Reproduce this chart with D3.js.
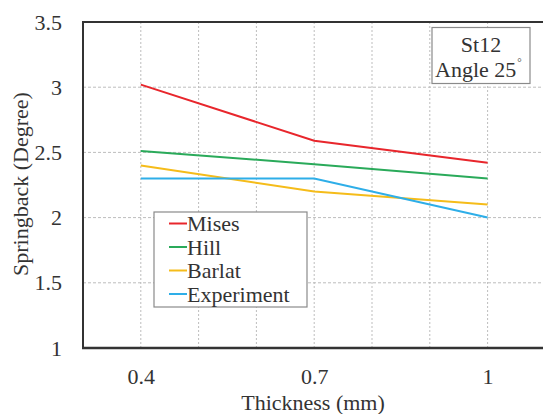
<!DOCTYPE html>
<html>
<head>
<meta charset="utf-8">
<script src="https://cdn.jsdelivr.net/npm/d3@7"></script>
</head>
<body style="margin:0">
<svg id="chart" width="543" height="414"></svg>
<script>
// Springback angle vs. sheet thickness for St12 at a 25° bend angle
const thickness = [0.4, 0.7, 1.0];
const mises = [3.02, 2.59, 2.42];
const hill = [2.51, 2.41, 2.30];
const barlat = [2.40, 2.20, 2.10];
const experiment = [2.30, 2.30, 2.00];

const seriesNames = ["Mises", "Hill", "Barlat", "Experiment"];
const seriesColors = ["#e8262c", "#2aaa5a", "#f5bc1a", "#2eaee8"];
const seriesValues = [mises, hill, barlat, experiment];

const xTickLabels = [0.4, 0.7, 1];
const xGridValues = [0.4, 0.5, 0.6, 0.7, 0.8, 0.9, 1.0];
const yTickLabels = [1, 1.5, 2, 2.5, 3, 3.5];

const FONT = "Liberation Serif";
const FS = "22px";
const INK = "#333";

const svg = d3.select("#chart");
const plotLeft = 83, plotTop = 22, plotBottom = 348;

const x = d3.scaleLinear().domain([0.3, 1.1]).range([plotLeft, plotLeft + 8 * 57.8]);
const y = d3.scaleLinear().domain([1, 3.5]).range([plotBottom, plotTop]);

function styleText(sel) {
  return sel.style("font-family", FONT).style("font-size", FS).attr("fill", INK);
}

// grid
const grid = svg.append("g");
grid.selectAll("line.vg").data(xGridValues).join("line")
  .attr("x1", d => x(d)).attr("x2", d => x(d))
  .attr("y1", plotTop).attr("y2", plotBottom)
  .attr("stroke", "#bdbdbd").attr("stroke-width", 1).attr("stroke-dasharray", "2,2");
grid.selectAll("line.hg").data(yTickLabels.filter(d => d > 1 && d < 3.5)).join("line")
  .attr("x1", plotLeft).attr("x2", 543)
  .attr("y1", d => y(d)).attr("y2", d => y(d))
  .attr("stroke", "#bdbdbd").attr("stroke-width", 1).attr("stroke-dasharray", "3,2");

// axes with labels only (no tick marks)
const xAxis = d3.axisBottom(x).tickValues(xTickLabels).tickSize(0).tickPadding(20)
  .tickFormat(d => d3.format("")(d));
const gx = svg.append("g").attr("transform", `translate(0,${plotBottom})`).call(xAxis);
gx.attr("font-family", null);
gx.select(".domain").remove();
styleText(gx.selectAll("text"));

const yAxis = d3.axisLeft(y).tickValues(yTickLabels).tickSize(0).tickPadding(21)
  .tickFormat(d => d3.format("")(d));
const gy = svg.append("g").attr("transform", `translate(${plotLeft},0)`).call(yAxis);
gy.attr("font-family", null);
gy.select(".domain").remove();
styleText(gy.selectAll("text"));

// plot frame
svg.append("line").attr("x1", plotLeft).attr("x2", 543).attr("y1", plotTop).attr("y2", plotTop)
  .attr("stroke", "#333").attr("stroke-width", 2);
svg.append("line").attr("x1", plotLeft).attr("x2", plotLeft).attr("y1", plotTop - 1).attr("y2", plotBottom + 1)
  .attr("stroke", "#333").attr("stroke-width", 2);
svg.append("line").attr("x1", plotLeft - 1).attr("x2", 543).attr("y1", plotBottom).attr("y2", plotBottom)
  .attr("stroke", "#333").attr("stroke-width", 2.5);

// series lines
const line = d3.line().x((d, i) => x(thickness[i])).y(d => y(d));
svg.append("g").selectAll("path").data(seriesValues).join("path")
  .attr("d", d => line(d))
  .attr("fill", "none")
  .attr("stroke", (d, i) => seriesColors[i])
  .attr("stroke-width", 2);

// axis titles
styleText(svg.append("text").attr("x", 313).attr("y", 410).attr("text-anchor", "middle"))
  .text("Thickness (mm)");
styleText(svg.append("text").attr("transform", "translate(28,184) rotate(-90)")
  .attr("text-anchor", "middle"))
  .text("Springback (Degree)");

// legend
const legend = svg.append("g");
legend.append("rect").attr("x", 154).attr("y", 212).attr("width", 153).attr("height", 95)
  .attr("fill", "#fff").attr("stroke", "#8a8a8a").attr("stroke-width", 1.2);
seriesNames.forEach((name, i) => {
  const base = 231 + i * 23.5;
  legend.append("line").attr("x1", 169).attr("x2", 187)
    .attr("y1", base - 7.5).attr("y2", base - 7.5)
    .attr("stroke", seriesColors[i]).attr("stroke-width", 2);
  styleText(legend.append("text").attr("x", 187).attr("y", base)).text(name);
});

// annotation box
const note = svg.append("g");
note.append("rect").attr("x", 432).attr("y", 27.5).attr("width", 98).attr("height", 56)
  .attr("fill", "#fff").attr("stroke", "#8a8a8a").attr("stroke-width", 1.2);
styleText(note.append("text").attr("x", 481).attr("y", 51.5).attr("text-anchor", "middle"))
  .text("St12");
const t2 = styleText(note.append("text").attr("x", 435).attr("y", 77));
t2.append("tspan").text("Angle 25");
t2.append("tspan").style("font-size", "11px").attr("dy", -11).attr("dx", 1).text("°");
</script>
</body>
</html>
